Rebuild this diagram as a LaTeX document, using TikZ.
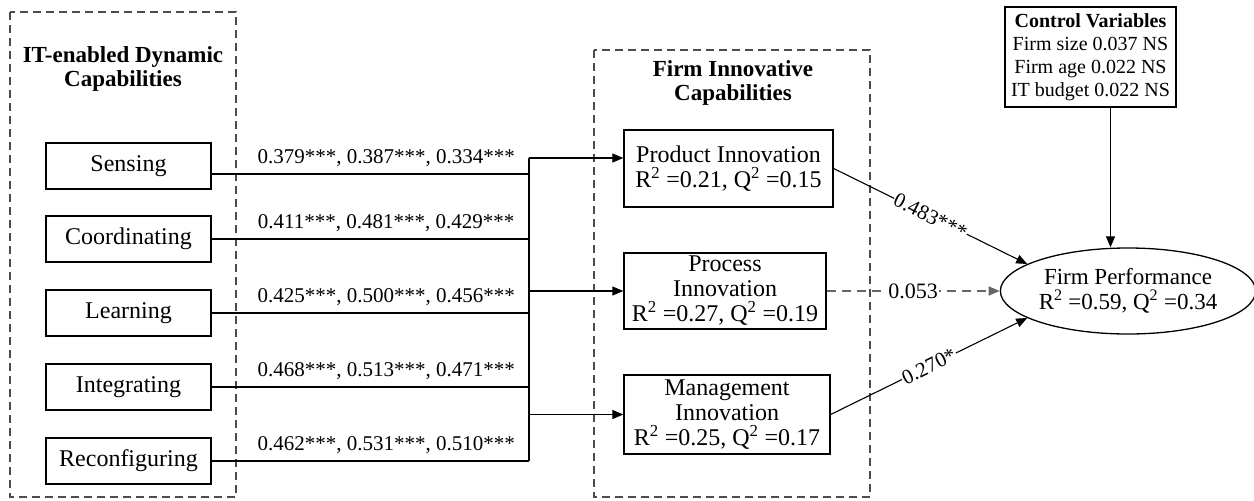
\documentclass[tikz,border=0pt]{standalone}
\usepackage{fontspec}
\setmainfont{Liberation Serif}
\usetikzlibrary{arrows.meta,shapes.geometric}

\tikzset{
    frame/.style={draw=black!70, line width=1.2pt, dash pattern=on 8pt off 5pt},
    grouptitle/.style={align=center, font=\fontsize{23}{24}\selectfont\bfseries},
    dcbox/.style={draw, line width=1.3pt, minimum width=165pt, minimum height=46pt, font=\fontsize{24}{25}\selectfont},
    innobox/.style={draw, line width=1.3pt, align=center, inner sep=2pt, font=\fontsize{24}{25}\selectfont},
    coef/.style={above=3pt, pos=0.55, font=\fontsize{21}{24}\selectfont},
    pathlab/.style={sloped, fill=white, inner sep=1pt, font=\fontsize{21}{24}\selectfont},
    link/.style={line width=1.1pt},
}

\begin{document}
\begin{tikzpicture}[x=1pt, y=-1pt, >={Triangle[length=11pt,width=9pt]}]
    \useasboundingbox (0,0) rectangle (1254,501);

    % Riquadri tratteggiati
    \draw[frame] (10,12) rectangle (236,497);
    \draw[frame] (594,50) rectangle (870,497);
    \node[grouptitle] (dctitle) at (123,69) {IT-enabled Dynamic\\Capabilities};
    \node[grouptitle] (ictitle) at (733,83) {Firm Innovative\\Capabilities};

    % Capacita' dinamiche
    \foreach \name/\txt/\y in {sensing/Sensing/166, coordinating/Coordinating/239,
        learning/Learning/313, integrating/Integrating/387, reconfiguring/Reconfiguring/461} {
        \node[dcbox] (\name) at (128.5,\y) {\txt};
    }

    % Bus verticale
    \coordinate (bustop) at (529,158);
    \coordinate (busbottom) at (529,461);
    \draw[link] (bustop) -- (busbottom);

    \foreach \name/\dy/\coef in {sensing/-8/{0.379***, 0.387***, 0.334***},
        coordinating/0/{0.411***, 0.481***, 0.429***},
        learning/0/{0.425***, 0.500***, 0.456***},
        integrating/0/{0.468***, 0.513***, 0.471***},
        reconfiguring/0/{0.462***, 0.531***, 0.510***}} {
        \draw[link] ([yshift=\dy pt]\name.east) -- node[coef] {\coef} ([yshift=\dy pt]\name.east -| bustop);
    }

    % Capacita' innovative
    \node[innobox, minimum width=209pt, minimum height=77pt] (product) at (728.5,168.5)
        {Product Innovation\\R\textsuperscript{2} =0.21, Q\textsuperscript{2} =0.15};
    \node[innobox, minimum width=202pt, minimum height=76pt] (process) at (725,291)
        {Process\\Innovation\\R\textsuperscript{2} =0.27, Q\textsuperscript{2} =0.19};
    \node[innobox, minimum width=206pt, minimum height=79pt] (management) at (727,414.5)
        {Management\\Innovation\\R\textsuperscript{2} =0.25, Q\textsuperscript{2} =0.17};

    \draw[link, ->] (bustop) -- (bustop -| product.west);
    \draw[link, ->] (bustop |- process.west) -- (process.west);
    \draw[link, ->] (bustop |- management.west) -- (management.west);

    % Performance e controlli
    \node[ellipse, draw, line width=1.3pt, align=center, minimum width=247pt, minimum height=86pt,
        inner sep=1pt, font=\fontsize{23}{25}\selectfont] (performance) at (1128,291)
        {Firm Performance\\R\textsuperscript{2} =0.59, Q\textsuperscript{2} =0.34};
    \node[draw, line width=1.3pt, align=center, minimum width=171pt, minimum height=100pt,
        inner sep=2pt, font=\fontsize{20}{23}\selectfont] (control) at (1090.5,57)
        {\textbf{Control Variables}\\Firm size 0.037 NS\\Firm age 0.022 NS\\IT budget 0.022 NS};

    \draw[link, ->] ([xshift=20pt]control.south) -- ([xshift=20pt]control.south |- performance.north);
    \draw[link, ->] (product.east) -- node[pathlab] {0.483***} (performance.165);
    \draw[->, black!60, line width=1.6pt, dash pattern=on 9pt off 6pt] (process.east) -- node[fill=white, text=black, inner sep=1pt, font=\fontsize{22}{24}\selectfont] {0.053} (performance.west);
    \draw[link, ->] (management.east) -- node[pathlab] {0.270*} (performance.195);
\end{tikzpicture}
\end{document}
